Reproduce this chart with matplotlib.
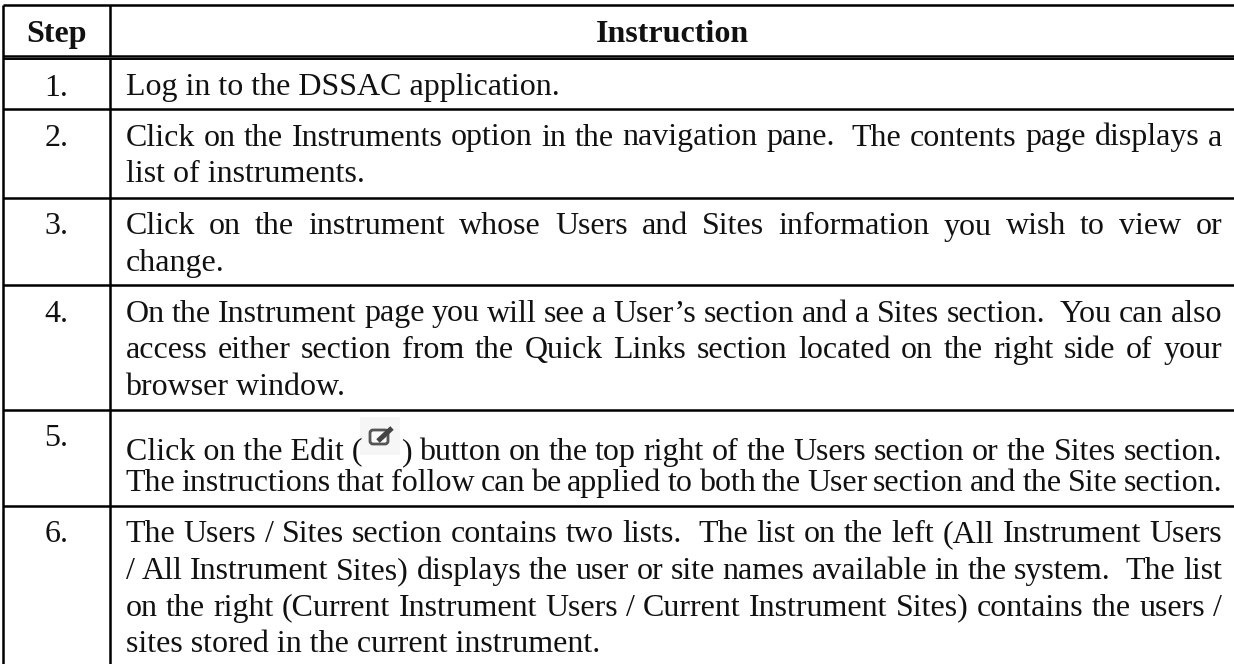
import matplotlib
matplotlib.use("Agg")
import matplotlib.pyplot as plt
from matplotlib.patches import Rectangle, FancyBboxPatch

plt.rcParams['font.family'] = ['Liberation Serif', 'DejaVu Serif']

# table content
headers = ["Step", "Instruction"]
steps = ["1.", "2.", "3.", "4.", "5.", "6."]
instructions = [
    ["Log in to the DSSAC application."],
    ["Click on the Instruments option in the navigation pane.  The contents page displays a",
     "list of instruments."],
    ["Click on the instrument whose Users and Sites information you wish to view or",
     "change."],
    ["On the Instrument page you will see a User\u2019s section and a Sites section.  You can also",
     "access either section from the Quick Links section located on the right side of your",
     "browser window."],
    ["Click on the Edit (",
     "The instructions that follow can be applied to both the User section and the Site section."],
    ["The Users / Sites section contains two lists.  The list on the left (All Instrument Users",
     "/ All Instrument Sites) displays the user or site names available in the system.  The list",
     "on the right (Current Instrument Users / Current Instrument Sites) contains the users /",
     "sites stored in the current instrument."],
]
edit_rest = "button on the top right of the Users section or the Sites section."

# layout, in pixels
W, H = 1234, 664
left, divider = 3, 110
top, head1, head2 = 5, 55.5, 59
row_bottoms = [109, 198, 285, 410, 506]
text_x, text_r = 125.5, 1222
fs = 23
line_h = 36.6
ink = '#111111'

fig = plt.figure(figsize=(W / 100, H / 100), dpi=100)
ax = fig.add_axes([0, 0, 1, 1])
ax.set_xlim(0, W)
ax.set_ylim(H, 0)
ax.axis('off')
renderer = fig.canvas.get_renderer()


def word_width(s):
    t = ax.text(0, 0, s, fontsize=fs)
    w = t.get_window_extent(renderer).width
    t.remove()
    return w


def draw_justified(line, x0, x1, y):
    # words are spread so that the line fills x0..x1, a double space counts twice
    parts = line.split(" ")
    n_gaps = len(parts) - 1
    gap = (x1 - x0 - sum(word_width(p) for p in parts if p)) / n_gaps
    x = x0
    for p in parts:
        if p:
            ax.text(x, y, p, fontsize=fs, va='baseline', ha='left', color=ink)
            x += word_width(p)
        x += gap


# rules: the table runs off the right and bottom of the picture
for y, lw in [(top, 1.8), (head1, 1.8), (head2, 1.4)] + [(y, 1.8) for y in row_bottoms]:
    ax.plot([left, W], [y, y], color='black', lw=lw, solid_capstyle='butt')
ax.plot([left, left], [top, H], color='black', lw=1.8, solid_capstyle='butt')
ax.plot([divider, divider], [top, head1], color='black', lw=1.8, solid_capstyle='butt')
ax.plot([divider, divider], [head2, H], color='black', lw=1.8, solid_capstyle='butt')

# header
ax.text((left + divider) / 2, 42, headers[0], fontsize=fs, fontweight='bold', ha='center', va='baseline', color=ink)
ax.text((divider + W) / 2, 42, headers[1], fontsize=fs, fontweight='bold', ha='center', va='baseline', color=ink)

# body rows
prev = head2
for i, (step, lines) in enumerate(zip(steps, instructions)):
    base = prev + 36.5
    ax.text((left + divider) / 2, base, step, fontsize=fs, ha='center', va='baseline', color=ink)
    if i == 4:
        # the edit row sits lower because of the inline icon
        y1, y2 = 460, 491
        ax.text(text_x, y1, lines[0], fontsize=fs, va='baseline', color=ink)
        ax.add_patch(Rectangle((360, 417), 40, 38, color='#f6f6f6', lw=0))
        ax.add_patch(FancyBboxPatch((370, 430), 18, 14, boxstyle='round,pad=0,rounding_size=3',
                                    fc='#fafafa', ec='#555555', lw=2))
        ax.plot([378, 392], [441, 428], color='#444444', lw=3.6, solid_capstyle='butt')
        ax.text(402, y1, ")", fontsize=fs, va='baseline', color=ink)
        draw_justified(edit_rest, 419, text_r, y1)
        draw_justified(lines[1], text_x, text_r, y2)
    else:
        for j, line in enumerate(lines):
            y = base + j * line_h
            if j < len(lines) - 1:
                draw_justified(line, text_x, text_r, y)
            else:
                ax.text(text_x, y, line, fontsize=fs, va='baseline', color=ink)
    if i < len(row_bottoms):
        prev = row_bottoms[i]

fig.savefig("out.png", dpi=100)
